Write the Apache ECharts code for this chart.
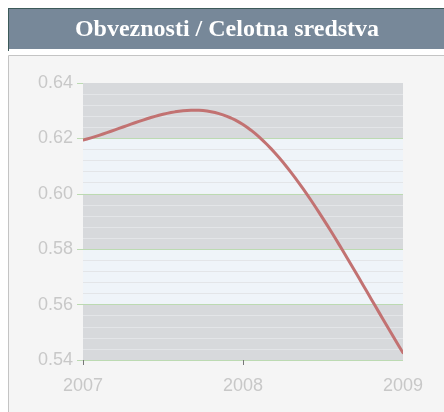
<!DOCTYPE html>
<html>
<head>
<meta charset="utf-8">
<script src="https://cdn.jsdelivr.net/npm/echarts@6/dist/echarts.min.js"></script>
<style>
html,body{margin:0;padding:0;background:#fff;}
#c{width:444px;height:412px;}
</style>
</head>
<body>
<div id="c"></div>
<script>
const titleText = 'Obveznosti / Celotna sredstva';
const years = ['2007', '2008', '2009'];
const ratio = [0.6194, 0.625, 0.5426];
// curve tangent (value change per year) at each point
const slopes = [0.015, -0.037, -0.095];
const yMin = 0.54, yMax = 0.64, yStep = 0.02;

const chart = echarts.init(document.getElementById('c'), null, {renderer: 'canvas'});
const majorColors = ['#bcdab2', '#bcdab2', '#bcdab2', '#bcdab2', '#bcdab2', 'rgba(0,0,0,0)'];

function renderCurve(params, api) {
  if (params.dataIndex !== 0) return null;
  const pts = [];
  for (let i = 0; i < ratio.length - 1; i++) {
    const xa = api.coord([i, ratio[i]])[0];
    const xb = api.coord([i + 1, ratio[i + 1]])[0];
    const p0 = ratio[i], p1 = ratio[i + 1], m0 = slopes[i], m1 = slopes[i + 1];
    const steps = 40;
    for (let s = (i === 0 ? 0 : 1); s <= steps; s++) {
      const t = s / steps, t2 = t * t, t3 = t2 * t;
      const v = (2 * t3 - 3 * t2 + 1) * p0 + (t3 - 2 * t2 + t) * m0 + (-2 * t3 + 3 * t2) * p1 + (t3 - t2) * m1;
      pts.push([xa + (xb - xa) * t, api.coord([i, v])[1]]);
    }
  }
  return {
    type: 'polyline',
    shape: {points: pts},
    style: {stroke: '#c27272', lineWidth: 3, fill: null, lineJoin: 'round', lineCap: 'round'}
  };
}

chart.setOption({
  animation: false,
  backgroundColor: '#ffffff',
  graphic: [
    {type: 'rect', shape: {x: 8.5, y: 55.5, width: 460, height: 380}, style: {fill: '#f5f5f5', stroke: '#c4c4c4', lineWidth: 1}, z: -10},
    {type: 'rect', shape: {x: 8, y: 8, width: 440, height: 41}, style: {fill: '#778899'}, z: -5},
    {type: 'line', shape: {x1: 8, y1: 8.5, x2: 444, y2: 8.5}, style: {stroke: '#3d5a5a', lineWidth: 1}, z: -4},
    {type: 'line', shape: {x1: 8.5, y1: 8, x2: 8.5, y2: 51}, style: {stroke: '#3d5a5a', lineWidth: 1}, z: -4},
    {type: 'text', x: 227, y: 30, style: {text: titleText, fill: '#ffffff', font: 'bold 24px "Liberation Serif", serif', align: 'center', verticalAlign: 'middle'}, z: 5}
  ],
  grid: {left: 83, right: 41, top: 83, bottom: 52, containLabel: false},
  xAxis: {
    type: 'category',
    data: years,
    boundaryGap: false,
    axisLine: {show: false},
    axisTick: {show: true, length: 5, lineStyle: {color: '#777'}, interval: function (i) { return i < 2; }},
    axisLabel: {color: '#c8c8c8', fontSize: 18, fontFamily: 'Liberation Sans', margin: 17},
    splitLine: {show: false}
  },
  yAxis: {
    type: 'value',
    min: yMin, max: yMax, interval: yStep,
    axisLine: {show: false},
    axisTick: {show: true, length: 6, lineStyle: {color: '#bcdab2'}},
    axisLabel: {color: '#c8c8c8', fontSize: 18, fontFamily: 'Liberation Sans', margin: 10, formatter: v => v.toFixed(2)},
    splitLine: {show: true, lineStyle: {color: majorColors, width: 1}},
    minorTick: {show: false, splitNumber: 5},
    minorSplitLine: {show: true, lineStyle: {color: '#e3e5e8', width: 1}},
    splitArea: {show: true, areaStyle: {color: ['#d7d9dc', '#eff4f9']}}
  },
  series: [{
    type: 'custom',
    data: ratio.map((v, i) => [i, v]),
    encode: {x: 0, y: 1},
    renderItem: renderCurve,
    clip: true
  }]
});
</script>
</body>
</html>
